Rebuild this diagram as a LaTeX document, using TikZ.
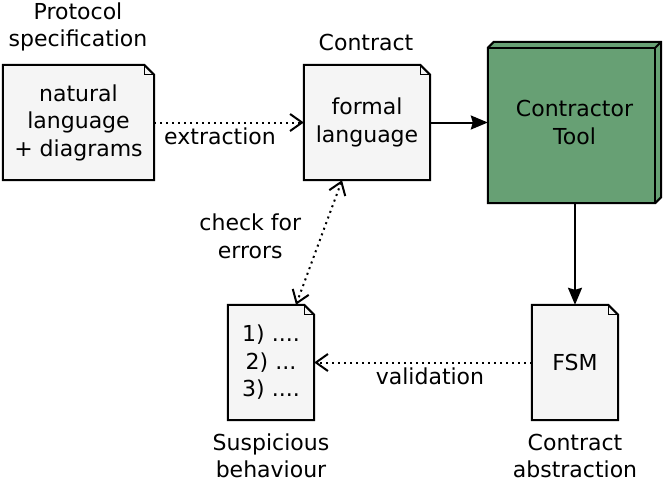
\documentclass[tikz,border=0pt]{standalone}
\usepackage{fontspec}
\setmainfont{DejaVu Sans}
\usetikzlibrary{arrows.meta,backgrounds}
\definecolor{docfill}{HTML}{F5F5F5}
\definecolor{toolgreen}{HTML}{67A074}
\tikzset{
  x=1pt,y=-1pt,
  every node/.style={font=\fontsize{22}{27.5}\selectfont, align=center, inner sep=0pt},
  docnode/.style={minimum width=#1, minimum height=115pt},
  line/.style={line width=2pt},
  barb/.tip={Straight Barb[length=12pt,width=17pt,line width=2pt]},
  openhead/.style={-barb},
  dotline/.style={line width=2pt, dash pattern=on 2pt off 4pt},
  filledhead/.style={-{Stealth[length=17pt,width=14pt,inset=2pt]}},
}
\newcommand\drawdoc[1]{%
  \filldraw[line, fill=docfill, line join=miter]
    (#1.north west) -- ([xshift=-10pt]#1.north east) -- ([yshift=-10pt]#1.north east)
    -- (#1.south east) -- (#1.south west) -- cycle;
  \draw[line width=1.2pt]
    ([xshift=-10pt]#1.north east) -- ([xshift=-10pt,yshift=-10pt]#1.north east)
    -- ([yshift=-10pt]#1.north east);
}
\begin{document}
\begin{tikzpicture}
\useasboundingbox (0,0) rectangle (664,483);

% nodes
\node[docnode=151pt] (spec) at (78.5,122.5) {natural\\language\\+ diagrams};
\node[docnode=126pt] (contract) at (367,122.5) {formal\\language};
\node[docnode=86pt] (susp) at (271,362.5) {1) ....\\2) ...\\3) ....};
\node[docnode=86pt] (fsm) at (575,362.5) {FSM};
\node[minimum width=173pt, minimum height=161pt] (tool) at (574.5,122.5) {Contractor\\Tool};

% titles
\node (tspec) at (78,27) {Protocol\\specification};
\node (tcontract) at (366,42) {Contract};
\node (tsusp) at (271,456) {Suspicious\\behaviour};
\node (tfsm) at (575,456) {Contract\\abstraction};

\begin{scope}[on background layer]
  \drawdoc{spec}
  \drawdoc{contract}
  \drawdoc{susp}
  \drawdoc{fsm}
  % 3D tool box
  \filldraw[line, fill=toolgreen, line join=miter]
    (tool.south west) -- ([yshift=-6pt]tool.north west) -- ([xshift=6pt]tool.north west)
    -- (tool.north east) -- ([yshift=6pt]tool.south east) -- ([xshift=-6pt]tool.south east) -- cycle;
  \draw[line, line join=miter]
    ([yshift=-6pt]tool.north west) -- ([xshift=-6pt,yshift=-6pt]tool.north east)
    -- ([xshift=-6pt]tool.south east);
  \draw[line] ([xshift=-6pt,yshift=-6pt]tool.north east) -- (tool.north east);
\end{scope}

% connectors
\draw[dotline, openhead] (spec.east) -- (contract.west)
  node[pos=0.44, yshift=-14pt] (lext) {extraction};
\draw[line, filledhead] (contract.east) -- (contract.east -| tool.west);
\draw[line, filledhead] (tool.south -| fsm.north) -- (fsm.north);
\draw[dotline, openhead] (fsm.west) -- (susp.east)
  node[pos=0.468, yshift=-14pt] (lval) {validation};
\draw[dotline, barb-barb]
  ([xshift=-25pt]contract.south) -- ([xshift=25pt]susp.north)
  node[pos=0.45, xshift=-71pt] (lchk) {check for\\errors};
\end{tikzpicture}
\end{document}
